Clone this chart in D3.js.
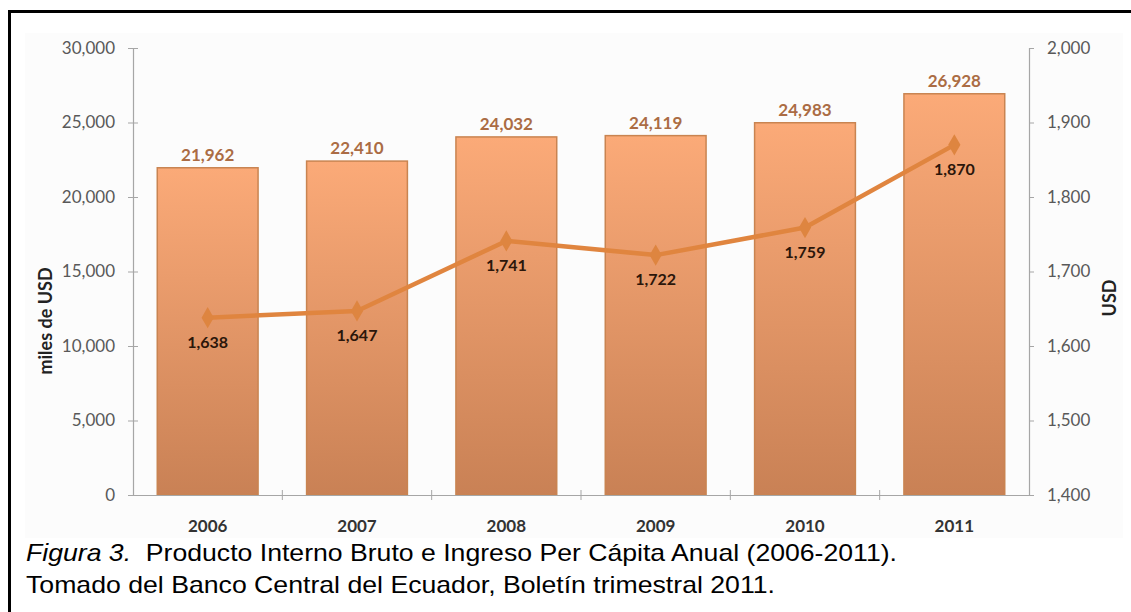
<!DOCTYPE html>
<html>
<head>
<meta charset="utf-8">
<script src="https://cdn.jsdelivr.net/npm/d3@7"></script>
<style>
  html, body { margin: 0; padding: 0; background: #ffffff; }
  svg { display: block; }
</style>
</head>
<body>
<svg id="chart" width="1131" height="612"></svg>
<script>
// PIB anual (miles de USD) e ingreso per cápita (USD), 2006-2011
const years = ["2006", "2007", "2008", "2009", "2010", "2011"];
const pib = [21962, 22410, 24032, 24119, 24983, 26928];
const perCapita = [1638, 1647, 1741, 1722, 1759, 1870];
const leftTicks = [0, 5000, 10000, 15000, 20000, 25000, 30000];
const rightTicks = [1400, 1500, 1600, 1700, 1800, 1900, 2000];
const captionLead = "Figura 3.";
const captionRest = "  Producto Interno Bruto e Ingreso Per Cápita Anual (2006-2011).";
const captionSource = "Tomado del Banco Central del Ecuador, Boletín trimestral 2011.";

const svg = d3.select("#chart");
const fmt = d3.format(",");
const font = "Lato, 'Open Sans', sans-serif";
const capFont = "'Liberation Sans', Arial, sans-serif";

// frame around the figure
svg.append("path")
  .attr("d", "M9.5,1000 V11.5 H1200")
  .attr("fill", "none").attr("stroke", "#000").attr("stroke-width", 3);

// faint chart-area backdrop
svg.append("rect")
  .attr("x", 25).attr("y", 33).attr("width", 1098).attr("height", 505)
  .attr("fill", "#fcfcfc");

const plot = { left: 133, right: 1029, top: 48, bottom: 495 };

const x = d3.scaleBand().domain(years).range([plot.left, plot.right]).paddingInner(0.325).paddingOuter(0.1625);
const xOuter = d3.scaleBand().domain(years).range([plot.left, plot.right]);
const yL = d3.scaleLinear().domain([0, 30000]).range([plot.bottom, plot.top]);
const yR = d3.scaleLinear().domain([1400, 2000]).range([plot.bottom, plot.top]);

// bar gradient
const defs = svg.append("defs");
const grad = defs.append("linearGradient").attr("id", "barGrad")
  .attr("x1", 0).attr("y1", 0).attr("x2", 0).attr("y2", 1);
grad.append("stop").attr("offset", "0%").attr("stop-color", "#fbaa78");
grad.append("stop").attr("offset", "100%").attr("stop-color", "#c98155");

// bars
svg.append("g").selectAll("rect").data(years).join("rect")
  .attr("x", d => x(d))
  .attr("width", x.bandwidth())
  .attr("y", (d, i) => yL(pib[i]))
  .attr("height", (d, i) => yL(0) - yL(pib[i]))
  .attr("fill", "url(#barGrad)")
  .attr("stroke", "#c98451").attr("stroke-width", 1.5);

// left axis
const gL = svg.append("g").attr("transform", `translate(${plot.left},0)`)
  .call(d3.axisLeft(yL).tickValues(leftTicks).tickFormat(fmt).tickSize(5).tickPadding(13));
gL.select(".domain").attr("stroke", "#a6a6a6").attr("stroke-width", 1.2);
gL.selectAll(".tick line").attr("stroke", "#a6a6a6").attr("x1", 5);
gL.selectAll("text").attr("font-family", font).attr("font-size", 17).attr("fill", "#595959");

// right axis
const gR = svg.append("g").attr("transform", `translate(${plot.right},0)`)
  .call(d3.axisRight(yR).tickValues(rightTicks).tickFormat(fmt).tickSize(5).tickPadding(13));
gR.select(".domain").attr("stroke", "#a6a6a6").attr("stroke-width", 1.2);
gR.selectAll(".tick line").attr("stroke", "#a6a6a6");
gR.selectAll("text").attr("font-family", font).attr("font-size", 17).attr("fill", "#595959");

// bottom axis with ticks between categories
const gB = svg.append("g").attr("transform", `translate(0,${plot.bottom})`)
  .call(d3.axisBottom(x).tickSize(0).tickPadding(25));
gB.select(".domain").attr("stroke", "#a6a6a6").attr("stroke-width", 1.2);
gB.selectAll("text").attr("font-family", font).attr("font-size", 17)
  .attr("font-weight", "bold").attr("fill", "#333");
gB.append("g").selectAll("line").data(years.slice(1)).join("line")
  .attr("x1", d => xOuter(d)).attr("x2", d => xOuter(d))
  .attr("y1", -5).attr("y2", 5)
  .attr("stroke", "#a6a6a6");

// bar value labels
svg.append("g").selectAll("text").data(years).join("text")
  .attr("x", d => x(d) + x.bandwidth() / 2)
  .attr("y", (d, i) => yL(pib[i]) - 7)
  .attr("text-anchor", "middle")
  .attr("font-family", font).attr("font-size", 17).attr("font-weight", "bold")
  .attr("fill", "#ab6c44")
  .text((d, i) => fmt(pib[i]));

// per-capita line
const cx = d => x(d) + x.bandwidth() / 2;
svg.append("path")
  .datum(years)
  .attr("d", d3.line().x(cx).y((d, i) => yR(perCapita[i])))
  .attr("fill", "none").attr("stroke", "#e0853f").attr("stroke-width", 4.5)
  .attr("stroke-linejoin", "round");

svg.append("g").selectAll("path").data(years).join("path")
  .attr("transform", (d, i) => `translate(${cx(d)},${yR(perCapita[i])})`)
  .attr("d", d3.symbol(d3.symbolDiamond, 130))
  .attr("fill", "#de8540");

svg.append("g").selectAll("text").data(years).join("text")
  .attr("x", cx)
  .attr("y", (d, i) => yR(perCapita[i]) + 30)
  .attr("text-anchor", "middle")
  .attr("font-family", font).attr("font-size", 16).attr("font-weight", "bold")
  .attr("fill", "#2b160a")
  .text((d, i) => fmt(perCapita[i]));

// axis titles
svg.append("text")
  .attr("transform", "translate(52,321) rotate(-90)")
  .attr("text-anchor", "middle")
  .attr("font-family", font).attr("font-size", 18).attr("font-weight", "bold").attr("fill", "#222")
  .text("miles de USD");
svg.append("text")
  .attr("transform", "translate(1116,298) rotate(-90)")
  .attr("text-anchor", "middle")
  .attr("font-family", font).attr("font-size", 18).attr("font-weight", "bold").attr("fill", "#222")
  .text("USD");

// caption
const cap = svg.append("text")
  .attr("x", 26).attr("y", 561)
  .attr("font-family", capFont).attr("font-size", 24).attr("fill", "#000")
  .attr("textLength", 871).attr("lengthAdjust", "spacingAndGlyphs")
  .attr("xml:space", "preserve");
cap.append("tspan").attr("font-style", "italic").text(captionLead);
cap.append("tspan").text(captionRest);
svg.append("text")
  .attr("x", 26).attr("y", 593)
  .attr("font-family", capFont).attr("font-size", 24).attr("fill", "#000")
  .attr("textLength", 749).attr("lengthAdjust", "spacingAndGlyphs")
  .text(captionSource);
</script>
</body>
</html>
